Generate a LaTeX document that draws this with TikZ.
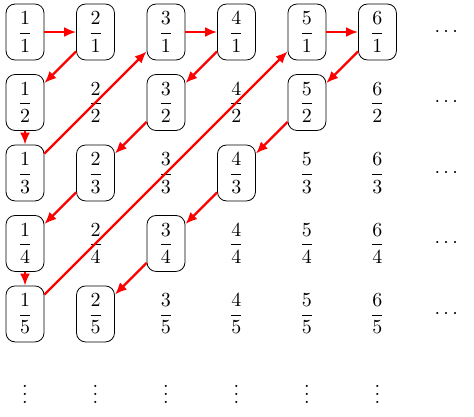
\documentclass[tikz,border=0pt]{standalone}
\usepackage{amsmath,amssymb}
\usepackage{tikz}
\usetikzlibrary{arrows.meta}

\begin{document}
\begin{tikzpicture}[x=1.24cm, y=-1.24cm,
	frac/.style={inner sep=3pt, minimum width=19pt, minimum height=28pt},
	onpathbox/.style={frac, draw, rounded corners=4.5pt},
	walk/.style={red, line width=1.1pt, -{Latex[length=6pt,width=5pt]}}]
	\useasboundingbox (-0.355,-0.454) rectangle (6.37,5.46);
	\foreach \p in {1,...,6} {
		\foreach \q in {1,...,5} {
			\pgfmathtruncatemacro{\onpath}{(gcd(\p,\q)==1 && \p+\q<8) ? 1 : 0}
			\ifnum\onpath=1
				\node[onpathbox] (n-\p-\q) at (\p-1,\q-1) {$\dfrac{\p}{\q}$};
			\else
				\node[frac] (n-\p-\q) at (\p-1,\q-1) {$\dfrac{\p}{\q}$};
			\fi
		}
		\node (v-\p) at (\p-1,5.05) {$\vdots$};
	}
	\foreach \q in {1,...,5}
		\node (h-\q) at (6,\q-1) {$\cdots$};
	% the walk through the table
	\foreach \a/\b in {1-1/2-1, 2-1/1-2, 1-2/1-3, 1-3/3-1, 3-1/4-1, 4-1/3-2, 3-2/2-3, 2-3/1-4,
		1-4/1-5, 1-5/5-1, 5-1/6-1, 6-1/5-2, 5-2/4-3, 4-3/3-4, 3-4/2-5}
		\draw[walk] (n-\a) -- (n-\b);
\end{tikzpicture}
\end{document}
